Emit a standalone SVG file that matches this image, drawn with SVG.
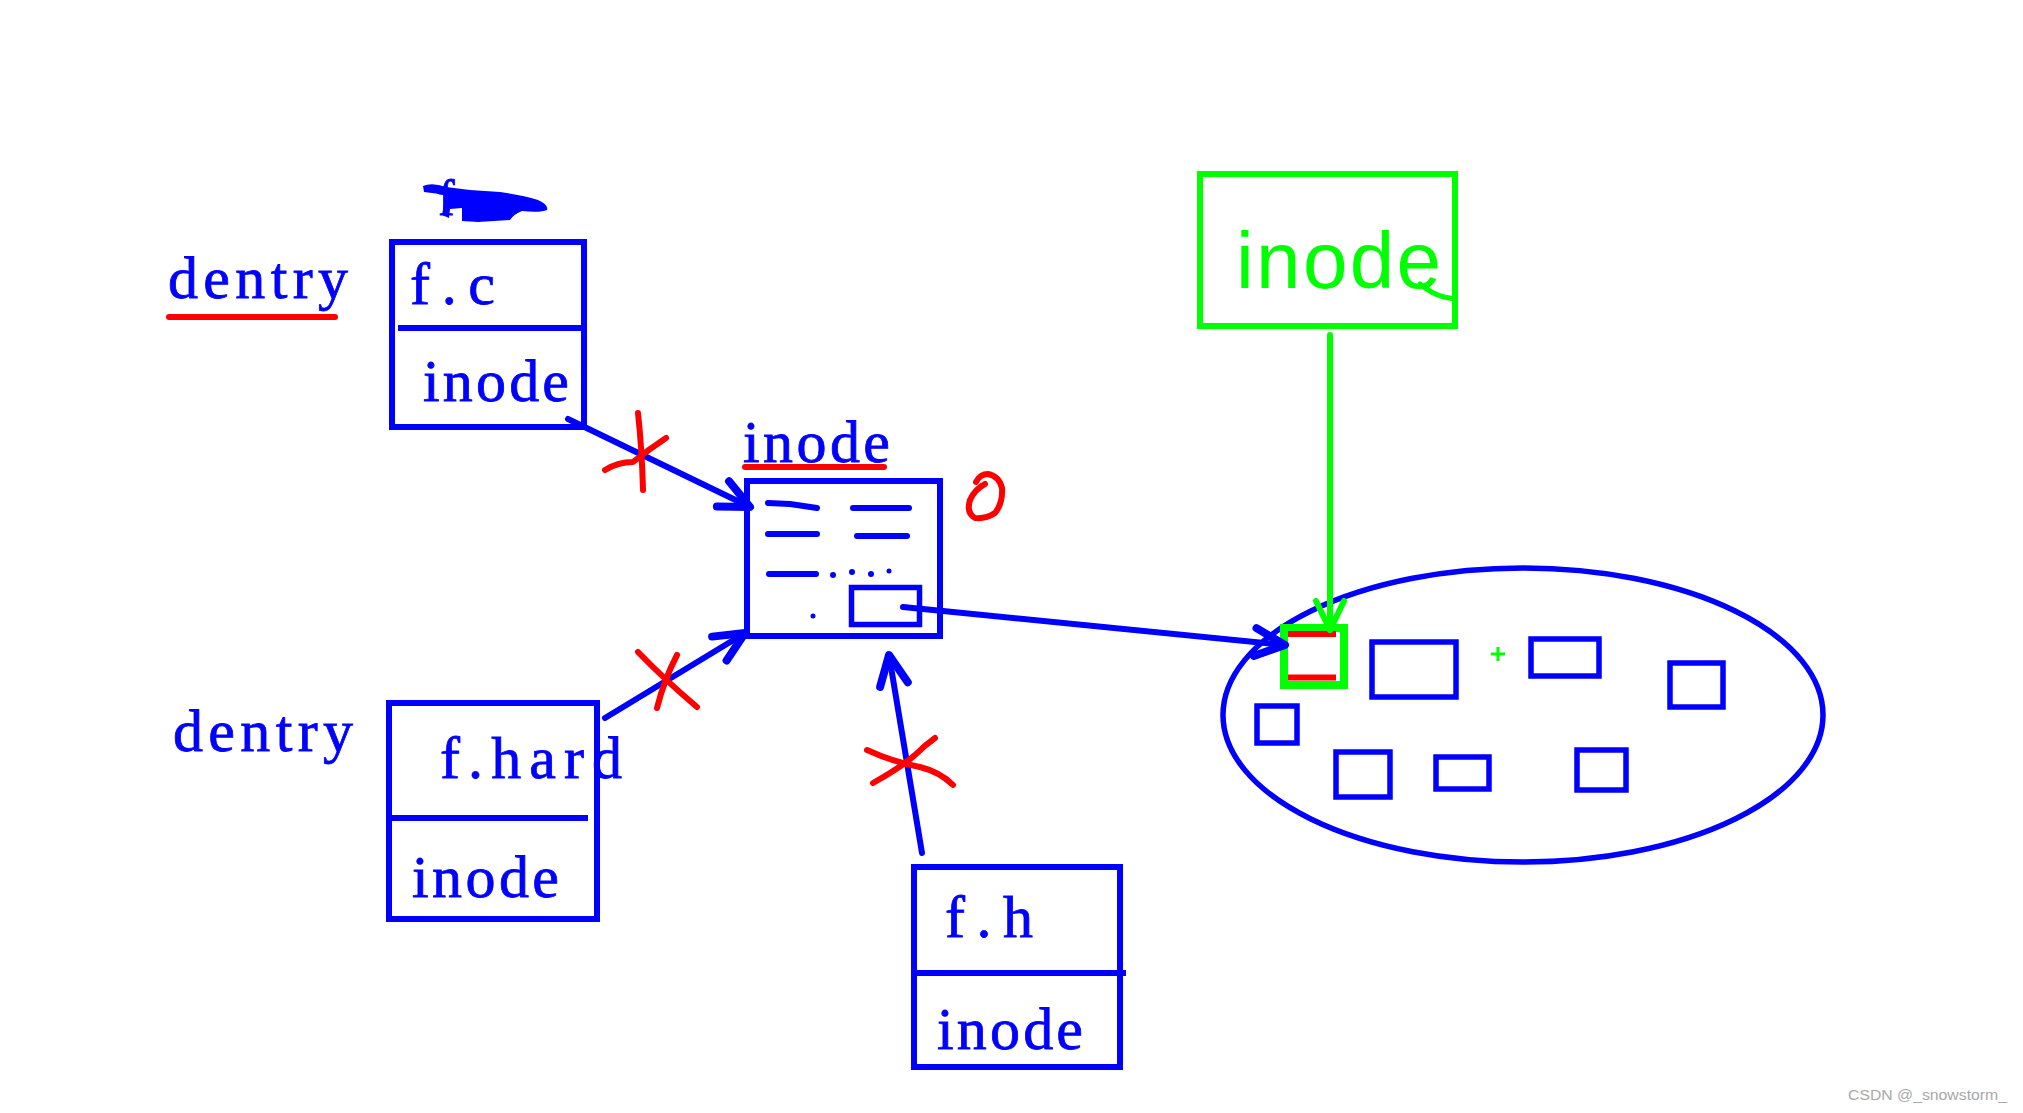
<svg xmlns="http://www.w3.org/2000/svg" width="2023" height="1113" viewBox="0 0 2023 1113">
<style>
.bg{fill:#ffffff}
.box{fill:none;stroke:#0000ff;stroke-width:6}
.bl{fill:none;stroke:#0000ff;stroke-width:6;stroke-linecap:round;stroke-linejoin:round}
.gl{fill:none;stroke:#00ff00;stroke-width:6;stroke-linecap:round;stroke-linejoin:round}
.rl{fill:none;stroke:#ff0000;stroke-width:6;stroke-linecap:round;stroke-linejoin:round}
.t{font-family:"Liberation Serif","DejaVu Serif",serif;font-size:60px;fill:#0000ff;stroke:#0000ff;stroke-width:0.8}
.hw{font-family:"Liberation Sans","DejaVu Sans",sans-serif;font-size:80px;fill:#00ff00}
.wm{font-family:"Liberation Sans",Arial,sans-serif;font-size:15px;fill:#a8a8a8}
</style>
<defs>
<marker id="ab" markerUnits="userSpaceOnUse" markerWidth="50" markerHeight="50" viewBox="-40 -25 50 50" refX="0" refY="0" orient="auto" overflow="visible">
<path d="M-30,-14 L0,0 L-30,14" fill="none" stroke="#0000ff" stroke-width="8" stroke-linecap="round" stroke-linejoin="round"/>
</marker>
<marker id="ag" markerUnits="userSpaceOnUse" markerWidth="50" markerHeight="50" viewBox="-40 -25 50 50" refX="0" refY="0" orient="auto" overflow="visible">
<path d="M-29,-14 L0,0 L-29,14" fill="none" stroke="#00ff00" stroke-width="6" stroke-linecap="round" stroke-linejoin="round"/>
</marker>
</defs>
<rect class="bg" x="0" y="0" width="2023" height="1113"/>

<g id="dentry-label-1">
<text class="t" x="168" y="298" textLength="180" lengthAdjust="spacing">dentry</text>
<path class="rl" d="M169,317 H335"/>
</g>

<g id="scribble">
<text class="t" x="438" y="215" style="font-size:50px">f</text>
<path d="M423,186 Q432,182 446,187 L470,190 L500,192 Q522,195 538,200 Q549,205 547,210 Q540,213 522,211 Q514,214 510,220 L478,222 L462,221 L462,208 L450,209 L449,218 L442,215 L444,204 L448,196 Q436,193 424,192 Z" fill="#0000ff"/>
</g>

<g id="node-fc">
<rect class="box" x="392" y="242" width="192" height="185"/>
<path class="box" d="M398,328 H584"/>
<text class="t" x="410" y="304" textLength="85" lengthAdjust="spacing">f.c</text>
<text class="t" x="423" y="401" textLength="146" lengthAdjust="spacing">inode</text>
</g>

<g id="dentry-label-2">
<text class="t" x="173" y="751" textLength="180" lengthAdjust="spacing">dentry</text>
</g>

<g id="node-fhard">
<rect class="box" x="389" y="703" width="208" height="216"/>
<path class="box" d="M389,818 H588"/>
<text class="t" x="440" y="778" textLength="182" lengthAdjust="spacing">f.hard</text>
<text class="t" x="412" y="897" textLength="147" lengthAdjust="spacing">inode</text>
</g>

<g id="node-fh">
<rect class="box" x="914" y="867" width="206" height="200"/>
<path class="box" d="M914,973 H1126"/>
<text class="t" x="945" y="937" textLength="88" lengthAdjust="spacing">f.h</text>
<text class="t" x="937" y="1049" textLength="146" lengthAdjust="spacing">inode</text>
</g>

<g id="node-inode">
<text class="t" x="743" y="462" textLength="147" lengthAdjust="spacing">inode</text>
<path class="rl" d="M745,467 H884"/>
<rect class="box" x="747" y="481" width="193" height="155"/>
<path class="bl" d="M768,503 L790,504 L817,508"/>
<path class="bl" d="M853,508 H909"/>
<path class="bl" d="M768,534 H817"/>
<path class="bl" d="M857,536 H907"/>
<path class="bl" d="M769,574 H816"/>
<circle cx="833" cy="575" r="3" fill="#0000ff"/>
<circle cx="852" cy="572" r="3" fill="#0000ff"/>
<circle cx="871" cy="574" r="3" fill="#0000ff"/>
<circle cx="889" cy="571" r="2.5" fill="#0000ff"/>
<circle cx="813" cy="616" r="2.5" fill="#0000ff"/>
<rect class="box" x="851.5" y="587.5" width="68" height="37" style="stroke-width:5.5"/>
<path class="rl" d="M976,482 Q980,474 988,474 Q999,476 1002,488 Q1003,503 995,513 Q986,519 975,518 Q966,513 970,500 Q975,489 985,484"/>
</g>

<g id="node-inode-green">
<rect x="1200" y="174" width="255" height="152" fill="none" stroke="#00ff00" stroke-width="6"/>
<text class="hw" x="1236" y="288" textLength="205" lengthAdjust="spacing">inode</text>
<path class="gl" d="M1420,284 Q1432,294 1444,297 L1455,299" style="stroke-width:5"/>
</g>

<g id="node-inode-table">
<ellipse cx="1523" cy="715" rx="300" ry="147" fill="none" stroke="#0000ff" stroke-width="5.5"/>
<rect class="box" x="1372" y="642" width="84" height="55" style="stroke-width:5.5"/>
<rect class="box" x="1531" y="639" width="68" height="37" style="stroke-width:5.5"/>
<rect class="box" x="1670" y="663" width="53" height="44" style="stroke-width:5.5"/>
<rect class="box" x="1257" y="706" width="40" height="37" style="stroke-width:5.5"/>
<rect class="box" x="1336" y="752" width="54" height="45" style="stroke-width:5.5"/>
<rect class="box" x="1436" y="757" width="53" height="32" style="stroke-width:5.5"/>
<rect class="box" x="1577" y="750" width="49" height="40" style="stroke-width:5.5"/>
<path d="M1491,654 H1505 M1498,647 V661" stroke="#00ff00" stroke-width="3" fill="none"/>
<rect x="1284" y="628" width="60" height="57" fill="none" stroke="#00ff00" stroke-width="8"/>
<path d="M1288,634 H1336 M1288,677.5 H1336" stroke="#ff0000" stroke-width="6" fill="none"/>
</g>

<g id="connectors">
<path class="bl" d="M568,419 L750,507" marker-end="url(#ab)"/>
<path class="bl" d="M605,718 L745,633" marker-end="url(#ab)"/>
<path class="bl" d="M922,853 L889,655" marker-end="url(#ab)"/>
<path class="bl" d="M903,607 L1285,645" marker-end="url(#ab)"/>
<path class="gl" d="M1330,335 L1330,630" marker-end="url(#ag)"/>
<path class="rl" d="M638,413 Q642,450 643,490"/>
<path class="rl" d="M605,470 Q618,462 633,462 Q648,450 666,438"/>
<path class="rl" d="M638,652 Q665,680 697,707"/>
<path class="rl" d="M677,655 Q664,680 657,708"/>
<path class="rl" d="M867,750 Q893,762 920,767 Q940,772 953,785"/>
<path class="rl" d="M873,783 Q900,768 915,755 Q925,745 935,738"/>
</g>

<text class="wm" x="1848" y="1100" textLength="159" lengthAdjust="spacingAndGlyphs">CSDN @_snowstorm_</text>
</svg>
